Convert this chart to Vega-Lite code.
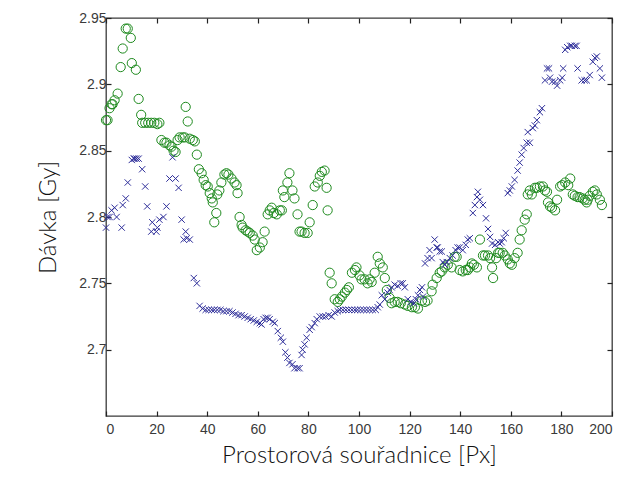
{
  "$schema": "https://vega.github.io/schema/vega-lite/v6.json",
  "autosize": "none",
  "width": 506,
  "height": 398,
  "padding": {"left": 106, "top": 18, "right": 13, "bottom": 68},
  "background": "white",
  "config": {
    "view": {"stroke": "#3a3a3a", "strokeWidth": 1.3},
    "axis": {"grid": false, "domain": false, "tickColor": "#222", "tickSize": -5, "tickWidth": 1.2, "labelFont": "Liberation Sans", "labelFontSize": 14, "labelColor": "#3a3a3a", "titleFont": "Lato", "titleFontSize": 24, "titleFontWeight": 300, "titleColor": "#111"}
  },
  "datasets": {
    "green": [
      {"x":0.0,"d":2.873},{"x":0.6,"d":2.873},{"x":1.4,"d":2.882},{"x":2.2,"d":2.885},{"x":2.6,"d":2.885},{"x":3.4,"d":2.888},{"x":4.6,"d":2.893},{"x":5.8,"d":2.913},{"x":6.6,"d":2.927},{"x":7.8,"d":2.942},{"x":8.6,"d":2.942},{"x":9.8,"d":2.935},{"x":10.2,"d":2.916},{"x":11.8,"d":2.911},{"x":12.9,"d":2.889},{"x":13.9,"d":2.877},{"x":14.3,"d":2.871},{"x":15.5,"d":2.871},{"x":16.7,"d":2.871},{"x":17.9,"d":2.871},{"x":19.1,"d":2.871},{"x":20.3,"d":2.870},{"x":21.1,"d":2.871},{"x":21.9,"d":2.858},{"x":23.1,"d":2.856},{"x":23.9,"d":2.856},{"x":25.1,"d":2.854},{"x":25.9,"d":2.853},{"x":26.7,"d":2.850},{"x":27.5,"d":2.849},{"x":28.3,"d":2.858},{"x":29.1,"d":2.860},{"x":30.3,"d":2.860},{"x":31.1,"d":2.860},{"x":31.5,"d":2.883},{"x":32.3,"d":2.872},{"x":33.1,"d":2.859},{"x":34.3,"d":2.858},{"x":35.1,"d":2.857},{"x":35.9,"d":2.847},{"x":36.7,"d":2.836},{"x":37.8,"d":2.833},{"x":38.6,"d":2.828},{"x":39.4,"d":2.824},{"x":40.2,"d":2.823},{"x":41.0,"d":2.818},{"x":41.8,"d":2.814},{"x":42.2,"d":2.811},{"x":42.8,"d":2.796},{"x":43.6,"d":2.803},{"x":44.0,"d":2.817},{"x":44.8,"d":2.820},{"x":45.6,"d":2.826},{"x":46.8,"d":2.832},{"x":47.6,"d":2.833},{"x":48.4,"d":2.832},{"x":49.6,"d":2.829},{"x":50.8,"d":2.826},{"x":51.6,"d":2.824},{"x":52.0,"d":2.818},{"x":52.8,"d":2.800},{"x":53.6,"d":2.794},{"x":54.0,"d":2.792},{"x":55.2,"d":2.790},{"x":56.0,"d":2.789},{"x":56.8,"d":2.788},{"x":58.0,"d":2.786},{"x":58.8,"d":2.783},{"x":59.6,"d":2.775},{"x":60.8,"d":2.777},{"x":61.9,"d":2.781},{"x":62.7,"d":2.789},{"x":63.9,"d":2.802},{"x":64.7,"d":2.805},{"x":65.5,"d":2.807},{"x":66.3,"d":2.803},{"x":67.5,"d":2.802},{"x":68.7,"d":2.805},{"x":69.5,"d":2.805},{"x":69.9,"d":2.820},{"x":70.5,"d":2.815},{"x":71.7,"d":2.826},{"x":72.5,"d":2.833},{"x":73.7,"d":2.820},{"x":74.5,"d":2.814},{"x":75.7,"d":2.802},{"x":76.5,"d":2.789},{"x":77.3,"d":2.789},{"x":78.5,"d":2.788},{"x":79.7,"d":2.788},{"x":80.5,"d":2.796},{"x":81.7,"d":2.809},{"x":82.5,"d":2.823},{"x":83.7,"d":2.826},{"x":84.5,"d":2.831},{"x":85.3,"d":2.834},{"x":86.4,"d":2.835},{"x":87.2,"d":2.822},{"x":87.6,"d":2.805},{"x":88.4,"d":2.758},{"x":89.2,"d":2.750},{"x":90.4,"d":2.738},{"x":91.6,"d":2.736},{"x":92.4,"d":2.738},{"x":93.2,"d":2.740},{"x":94.4,"d":2.743},{"x":95.2,"d":2.745},{"x":96.0,"d":2.747},{"x":97.2,"d":2.758},{"x":98.4,"d":2.760},{"x":99.0,"d":2.762},{"x":100.2,"d":2.756},{"x":101.0,"d":2.753},{"x":102.2,"d":2.753},{"x":103.4,"d":2.750},{"x":104.2,"d":2.753},{"x":105.0,"d":2.751},{"x":106.2,"d":2.758},{"x":107.4,"d":2.770},{"x":108.2,"d":2.765},{"x":109.4,"d":2.762},{"x":110.2,"d":2.754},{"x":111.0,"d":2.745},{"x":112.1,"d":2.739},{"x":112.9,"d":2.735},{"x":114.1,"d":2.736},{"x":115.3,"d":2.736},{"x":116.5,"d":2.735},{"x":118.1,"d":2.734},{"x":119.3,"d":2.733},{"x":120.9,"d":2.732},{"x":122.1,"d":2.732},{"x":123.3,"d":2.731},{"x":124.9,"d":2.737},{"x":126.1,"d":2.736},{"x":127.1,"d":2.737},{"x":128.7,"d":2.744},{"x":129.1,"d":2.749},{"x":130.7,"d":2.754},{"x":131.9,"d":2.758},{"x":132.7,"d":2.759},{"x":133.9,"d":2.762},{"x":135.1,"d":2.764},{"x":136.6,"d":2.762},{"x":137.8,"d":2.770},{"x":138.6,"d":2.770},{"x":139.8,"d":2.760},{"x":141.0,"d":2.759},{"x":142.2,"d":2.760},{"x":143.0,"d":2.760},{"x":143.8,"d":2.762},{"x":144.6,"d":2.765},{"x":145.4,"d":2.764},{"x":146.6,"d":2.762},{"x":147.8,"d":2.783},{"x":149.0,"d":2.771},{"x":149.8,"d":2.771},{"x":151.0,"d":2.771},{"x":151.8,"d":2.769},{"x":152.6,"d":2.762},{"x":153.0,"d":2.754},{"x":154.2,"d":2.769},{"x":155.0,"d":2.773},{"x":155.6,"d":2.773},{"x":156.8,"d":2.773},{"x":157.6,"d":2.771},{"x":158.8,"d":2.768},{"x":159.6,"d":2.765},{"x":160.4,"d":2.764},{"x":161.5,"d":2.769},{"x":162.7,"d":2.773},{"x":163.5,"d":2.783},{"x":164.3,"d":2.790},{"x":165.5,"d":2.798},{"x":166.3,"d":2.802},{"x":166.7,"d":2.817},{"x":167.5,"d":2.820},{"x":168.3,"d":2.817},{"x":169.5,"d":2.822},{"x":170.3,"d":2.822},{"x":171.5,"d":2.823},{"x":172.7,"d":2.823},{"x":173.5,"d":2.820},{"x":174.3,"d":2.819},{"x":174.7,"d":2.811},{"x":175.5,"d":2.808},{"x":176.3,"d":2.807},{"x":177.5,"d":2.805},{"x":178.3,"d":2.813},{"x":179.5,"d":2.823},{"x":180.3,"d":2.824},{"x":181.5,"d":2.826},{"x":182.7,"d":2.824},{"x":183.5,"d":2.829},{"x":184.5,"d":2.817},{"x":185.3,"d":2.816},{"x":186.4,"d":2.815},{"x":187.2,"d":2.815},{"x":188.4,"d":2.814},{"x":189.2,"d":2.813},{"x":190.0,"d":2.811},{"x":190.4,"d":2.813},{"x":191.2,"d":2.816},{"x":192.4,"d":2.819},{"x":193.2,"d":2.820},{"x":194.0,"d":2.817},{"x":195.2,"d":2.813},{"x":196.0,"d":2.809}
    ],
    "blue": [
      {"x":0.0,"d":2.792},{"x":0.6,"d":2.800},{"x":1.4,"d":2.800},{"x":2.2,"d":2.805},{"x":3.4,"d":2.807},{"x":4.2,"d":2.800},{"x":6.2,"d":2.792},{"x":6.6,"d":2.809},{"x":7.8,"d":2.814},{"x":8.6,"d":2.826},{"x":10.2,"d":2.843},{"x":11.0,"d":2.844},{"x":11.4,"d":2.844},{"x":12.1,"d":2.844},{"x":12.9,"d":2.844},{"x":14.3,"d":2.836},{"x":15.5,"d":2.823},{"x":16.3,"d":2.808},{"x":17.9,"d":2.789},{"x":18.3,"d":2.796},{"x":19.9,"d":2.789},{"x":20.3,"d":2.792},{"x":21.1,"d":2.798},{"x":22.7,"d":2.800},{"x":23.9,"d":2.808},{"x":25.1,"d":2.829},{"x":26.3,"d":2.845},{"x":27.5,"d":2.829},{"x":28.7,"d":2.822},{"x":29.9,"d":2.798},{"x":30.7,"d":2.783},{"x":31.5,"d":2.789},{"x":31.9,"d":2.784},{"x":33.1,"d":2.783},{"x":34.7,"d":2.754},{"x":35.9,"d":2.750},{"x":37.0,"d":2.733},{"x":38.2,"d":2.731},{"x":39.4,"d":2.730},{"x":40.6,"d":2.730},{"x":41.8,"d":2.730},{"x":42.8,"d":2.730},{"x":44.0,"d":2.730},{"x":45.2,"d":2.730},{"x":46.4,"d":2.729},{"x":47.6,"d":2.729},{"x":48.8,"d":2.729},{"x":50.0,"d":2.728},{"x":51.2,"d":2.727},{"x":52.4,"d":2.726},{"x":53.6,"d":2.726},{"x":54.8,"d":2.725},{"x":56.0,"d":2.724},{"x":57.2,"d":2.723},{"x":58.4,"d":2.722},{"x":59.6,"d":2.721},{"x":60.8,"d":2.720},{"x":61.5,"d":2.719},{"x":62.3,"d":2.723},{"x":63.1,"d":2.724},{"x":63.9,"d":2.724},{"x":64.7,"d":2.723},{"x":65.9,"d":2.721},{"x":66.7,"d":2.720},{"x":67.9,"d":2.714},{"x":69.1,"d":2.709},{"x":69.9,"d":2.706},{"x":70.9,"d":2.698},{"x":71.7,"d":2.694},{"x":72.5,"d":2.690},{"x":73.7,"d":2.689},{"x":74.5,"d":2.686},{"x":75.7,"d":2.686},{"x":76.5,"d":2.686},{"x":77.3,"d":2.696},{"x":77.7,"d":2.700},{"x":78.5,"d":2.704},{"x":79.3,"d":2.709},{"x":80.5,"d":2.715},{"x":81.3,"d":2.717},{"x":82.5,"d":2.720},{"x":83.3,"d":2.723},{"x":84.5,"d":2.725},{"x":85.7,"d":2.725},{"x":86.8,"d":2.725},{"x":88.0,"d":2.726},{"x":89.2,"d":2.725},{"x":90.4,"d":2.728},{"x":91.6,"d":2.729},{"x":92.4,"d":2.730},{"x":93.6,"d":2.730},{"x":94.8,"d":2.730},{"x":96.0,"d":2.730},{"x":97.2,"d":2.730},{"x":98.4,"d":2.730},{"x":99.4,"d":2.730},{"x":100.6,"d":2.730},{"x":101.8,"d":2.730},{"x":103.0,"d":2.730},{"x":104.2,"d":2.730},{"x":105.4,"d":2.730},{"x":106.6,"d":2.730},{"x":107.4,"d":2.732},{"x":108.2,"d":2.734},{"x":109.0,"d":2.741},{"x":110.2,"d":2.738},{"x":111.3,"d":2.743},{"x":112.1,"d":2.745},{"x":112.9,"d":2.747},{"x":114.1,"d":2.749},{"x":115.3,"d":2.748},{"x":116.5,"d":2.750},{"x":117.3,"d":2.750},{"x":118.1,"d":2.747},{"x":119.3,"d":2.738},{"x":120.5,"d":2.736},{"x":121.7,"d":2.735},{"x":122.5,"d":2.738},{"x":123.3,"d":2.741},{"x":124.1,"d":2.745},{"x":124.9,"d":2.747},{"x":125.3,"d":2.740},{"x":126.1,"d":2.765},{"x":127.1,"d":2.769},{"x":127.9,"d":2.775},{"x":128.7,"d":2.769},{"x":129.9,"d":2.783},{"x":130.7,"d":2.777},{"x":131.1,"d":2.777},{"x":131.9,"d":2.774},{"x":132.7,"d":2.774},{"x":133.1,"d":2.766},{"x":133.9,"d":2.764},{"x":134.7,"d":2.766},{"x":135.9,"d":2.769},{"x":137.0,"d":2.771},{"x":138.2,"d":2.775},{"x":139.0,"d":2.777},{"x":139.8,"d":2.777},{"x":141.0,"d":2.775},{"x":142.2,"d":2.779},{"x":143.0,"d":2.783},{"x":143.8,"d":2.784},{"x":145.0,"d":2.803},{"x":145.8,"d":2.809},{"x":146.6,"d":2.815},{"x":147.0,"d":2.819},{"x":147.8,"d":2.813},{"x":149.0,"d":2.809},{"x":150.2,"d":2.799},{"x":151.0,"d":2.791},{"x":151.8,"d":2.785},{"x":152.6,"d":2.780},{"x":153.8,"d":2.779},{"x":155.0,"d":2.781},{"x":155.6,"d":2.780},{"x":156.4,"d":2.781},{"x":157.2,"d":2.784},{"x":158.0,"d":2.788},{"x":158.8,"d":2.818},{"x":159.6,"d":2.820},{"x":160.4,"d":2.823},{"x":161.5,"d":2.828},{"x":162.7,"d":2.835},{"x":163.5,"d":2.841},{"x":164.3,"d":2.847},{"x":165.1,"d":2.852},{"x":166.3,"d":2.856},{"x":166.7,"d":2.864},{"x":167.5,"d":2.856},{"x":168.7,"d":2.867},{"x":169.5,"d":2.869},{"x":170.3,"d":2.873},{"x":171.5,"d":2.879},{"x":172.3,"d":2.882},{"x":173.5,"d":2.903},{"x":174.3,"d":2.912},{"x":175.1,"d":2.912},{"x":175.5,"d":2.905},{"x":176.3,"d":2.902},{"x":177.5,"d":2.902},{"x":178.3,"d":2.899},{"x":179.5,"d":2.903},{"x":180.3,"d":2.905},{"x":180.7,"d":2.912},{"x":181.5,"d":2.926},{"x":182.3,"d":2.928},{"x":183.5,"d":2.929},{"x":184.1,"d":2.929},{"x":185.3,"d":2.929},{"x":186.0,"d":2.929},{"x":186.4,"d":2.912},{"x":188.0,"d":2.903},{"x":189.2,"d":2.903},{"x":190.0,"d":2.903},{"x":191.2,"d":2.907},{"x":192.4,"d":2.917},{"x":193.2,"d":2.920},{"x":194.0,"d":2.921},{"x":195.2,"d":2.912},{"x":196.0,"d":2.905}
    ]
  },
  "layer": [
    {
      "data": {"name": "green"},
      "mark": {"type": "point", "shape": "circle", "filled": false, "stroke": "#1e8a1e", "strokeWidth": 1, "size": 85, "opacity": 1},
      "encoding": {
        "x": {"field": "x", "type": "quantitative", "scale": {"domain": [0, 200], "nice": false, "zero": false},
              "axis": {"orient": "bottom", "values": [0,20,40,60,80,100,120,140,160,180,200], "title": "Prostorová souřadnice [Px]", "titlePadding": 7, "labelPadding": 11}},
        "y": {"field": "d", "type": "quantitative", "scale": {"domain": [2.65, 2.95], "nice": false, "zero": false},
              "axis": {"orient": "left", "values": [2.7,2.75,2.8,2.85,2.9,2.95], "format": ".2~f", "title": "Dávka [Gy]", "titlePadding": 18, "labelPadding": 5}}
      }
    },
    {
      "data": {"name": "blue"},
      "mark": {"type": "point", "shape": "M-1,-1L1,1M-1,1L1,-1", "filled": false, "stroke": "#2e2e9a", "strokeWidth": 1, "size": 40, "opacity": 1},
      "encoding": {
        "x": {"field": "x", "type": "quantitative", "scale": {"domain": [0, 200], "nice": false, "zero": false},
              "axis": {"orient": "top", "values": [0,20,40,60,80,100,120,140,160,180,200], "labels": false, "title": null}},
        "y": {"field": "d", "type": "quantitative", "scale": {"domain": [2.65, 2.95], "nice": false, "zero": false},
              "axis": {"orient": "right", "values": [2.7,2.75,2.8,2.85,2.9,2.95], "labels": false, "title": null}}
      }
    }
  ],
  "resolve": {"axis": {"x": "independent", "y": "independent"}}
}
